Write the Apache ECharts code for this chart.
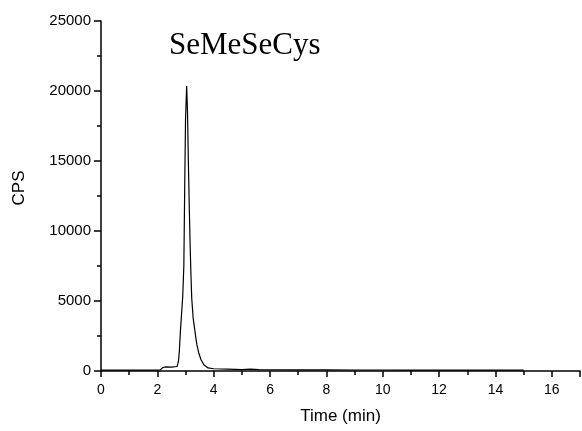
<!DOCTYPE html>
<html>
<head>
<meta charset="utf-8">
<script src="https://cdn.jsdelivr.net/npm/echarts@6/dist/echarts.min.js"></script>
<style>html,body{margin:0;padding:0;background:#fff;}#c{width:582px;height:431px;}</style>
</head>
<body>
<div id="c"></div>
<script>
const titleText = 'SeMeSeCys';
const xName = 'Time (min)';
const yName = 'CPS';
const timeMin = [0, 0.5, 1.0, 1.5, 2.0, 2.1, 2.15, 2.2, 2.3, 2.5, 2.7, 2.75, 2.78, 2.82, 2.86, 2.9, 2.94, 2.97, 3.0, 3.04, 3.07, 3.1, 3.13, 3.16, 3.19, 3.22, 3.27, 3.33, 3.4, 3.47, 3.55, 3.65, 3.8, 4.0, 4.5, 5.0, 5.3, 5.6, 6, 7, 8, 9, 10, 11, 12, 13, 14, 15];
const cps = [60, 70, 60, 70, 60, 80, 150, 250, 290, 280, 320, 700, 1400, 2900, 4100, 5300, 7500, 13000, 18000, 20350, 18500, 15000, 12000, 9300, 7000, 5200, 3800, 2900, 1900, 1290, 800, 450, 220, 160, 130, 100, 130, 100, 90, 80, 75, 70, 70, 65, 65, 60, 60, 60];

const chart = echarts.init(document.getElementById('c'));
chart.setOption({
  animation: false,
  title: {
    text: titleText, left: 164, top: 25,
    textStyle: {fontFamily: 'Liberation Serif', fontSize: 31, fontWeight: 'normal', color: '#000'}
  },
  grid: {left: 101, right: 2, top: 21, bottom: 60},
  xAxis: {
    type: 'value', min: 0, max: 17, interval: 2,
    name: xName, nameLocation: 'middle', nameGap: 37,
    nameTextStyle: {fontFamily: 'Liberation Sans', fontSize: 17, color: '#000'},
    axisLine: {lineStyle: {color: '#000', width: 1.5}},
    axisTick: {inside: false, length: 6, lineStyle: {color: '#000', width: 1.5}},
    minorTick: {show: true, splitNumber: 2, length: 4, lineStyle: {color: '#000', width: 1.5}},
    splitLine: {show: false},
    axisLabel: {margin: 12, showMaxLabel: false, formatter: v => String(v), fontFamily: 'Liberation Sans', fontSize: 14, color: '#000'}
  },
  yAxis: {
    type: 'value', min: 0, max: 25000, interval: 5000,
    name: yName, nameLocation: 'middle', nameGap: 73, nameRotate: 90,
    nameTextStyle: {fontFamily: 'Liberation Sans', fontSize: 17, color: '#000', padding: [0, 0, 0, 16]},
    axisLine: {show: true, lineStyle: {color: '#000', width: 1.5}},
    axisTick: {show: true, inside: false, length: 7, lineStyle: {color: '#000', width: 1.5}},
    minorTick: {show: true, splitNumber: 2, length: 4, lineStyle: {color: '#000', width: 1.5}},
    splitLine: {show: false},
    axisLabel: {margin: 10, formatter: v => String(v), fontFamily: 'Liberation Sans', fontSize: 15, color: '#000'}
  },
  series: [{
    type: 'line', showSymbol: false, smooth: false,
    data: timeMin.map((t, i) => [t, cps[i]]),
    lineStyle: {color: '#000', width: 1.2}
  }]
});
</script>
</body>
</html>
